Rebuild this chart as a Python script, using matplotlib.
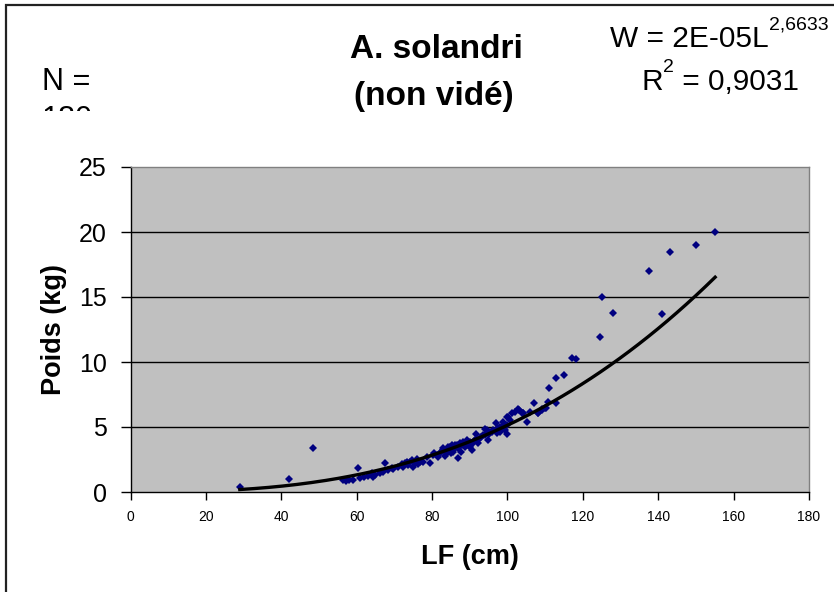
import numpy as np
import matplotlib
matplotlib.use("Agg")
import matplotlib.pyplot as plt
from matplotlib.patches import Rectangle
from matplotlib.transforms import Bbox, TransformedBbox

plt.rcParams['font.family'] = ['Liberation Sans', 'DejaVu Sans']

# ---- data ----
lf_cm = [29.0, 42.0, 48.5, 56.5, 57.3, 58.0, 59.1, 60.4, 60.9, 62.0, 63.1, 64.0, 64.4, 64.9,
         66.2, 67.1, 67.5, 68.4, 69.3, 69.7, 71.0, 71.9, 72.4, 72.8, 73.3, 73.7, 74.1, 74.6,
         75.0, 75.5, 75.9, 76.3, 76.8, 77.7, 78.6, 79.4, 80.3, 81.2, 82.1, 83.0, 83.4, 83.9,
         84.3, 84.7, 85.2, 85.6, 86.5, 86.9, 83.0, 83.9, 84.7, 85.6, 86.1, 86.9, 87.4, 87.8,
         88.3, 88.7, 89.2, 89.6, 90.1, 90.5, 90.9, 91.4, 91.6, 92.3, 92.7, 93.6, 94.0, 94.5,
         94.9, 95.4, 96.2, 96.9, 97.1, 97.6, 98.0, 98.5, 98.9, 99.3, 99.8, 100.2, 100.7, 101.1,
         102.0, 103.1, 103.8, 105.1, 106.0, 107.0, 108.2, 109.1, 110.0, 110.8, 111.1, 113.0,
         113.0, 115.1, 117.0, 118.1, 124.5, 125.1, 128.1, 137.5, 141.1, 143.0, 150.1, 155.1,
         80.5, 81.5, 82.5, 84.0, 85.0, 86.0, 87.0, 88.0, 89.0, 90.0, 91.0, 92.0, 93.0, 94.0,
         95.0, 96.0, 97.0, 98.0, 99.0, 100.0, 100.0, 102.9, 104.2, 108.1, 109.2, 110.1, 104.0]
poids_kg = [0.38, 0.97, 3.41, 0.92, 0.88, 0.95, 0.92, 1.87, 1.05, 1.15, 1.23, 1.49, 1.13, 1.31,
            1.49, 1.56, 2.20, 1.69, 1.82, 1.74, 1.95, 2.15, 1.95, 2.21, 2.33, 2.08, 2.33, 2.46,
            1.95, 2.26, 2.51, 2.15, 2.33, 2.33, 2.67, 2.20, 2.85, 2.85, 2.97, 3.23, 2.77, 2.97,
            3.49, 3.23, 3.62, 3.10, 3.62, 2.59, 3.36, 3.10, 3.49, 3.23, 3.62, 3.36, 3.74, 3.10,
            3.87, 3.49, 4.00, 3.62, 3.87, 3.23, 3.74, 4.00, 4.46, 3.74, 4.13, 4.38, 4.82, 4.77,
            4.00, 4.64, 4.77, 5.33, 4.51, 4.90, 4.64, 5.03, 5.41, 4.77, 5.15, 5.79, 5.54, 6.05,
            6.18, 6.31, 6.05, 5.36, 6.18, 6.82, 6.05, 6.31, 6.44, 6.95, 7.97, 6.82,
            8.74, 9.00, 10.33, 10.23, 11.92, 14.97, 13.74, 16.97, 13.70, 18.46, 18.97, 19.98,
            3.00, 2.70, 3.10, 3.30, 3.00, 3.40, 3.50, 3.60, 3.70, 3.50, 3.90, 4.00, 4.20, 4.40,
            4.50, 4.60, 4.80, 5.00, 5.00, 4.46, 5.80, 6.36, 6.10, 6.05, 6.36, 6.46, 6.10]

fit_a = 2.42e-5
fit_b = 2.6633

x_ticks = [0, 20, 40, 60, 80, 100, 120, 140, 160, 180]
y_ticks = [0, 5, 10, 15, 20, 25]

title_lines = ["A. solandri", "(non vidé)"]
eq_main = "W = 2E-05L"
eq_exp = "2,6633"
r2_text = " = 0,9031"
n_label = "N ="
n_value = "180"
x_label = "LF (cm)"
y_label = "Poids (kg)"

# ---- figure ----
W, H = 834, 592
fig = plt.figure(figsize=(W / 100, H / 100), dpi=100)
fig.patch.set_facecolor('white')

def fx(px):
    return px / W

def fy(py):
    return 1 - py / H

ax = fig.add_axes([fx(130.5), fy(492), fx(809) - fx(130.5), fy(167) - fy(492)])
ax.set_facecolor('#C0C0C0')
ax.set_xlim(0, 180)
ax.set_ylim(0, 25)
ax.set_xticks(x_ticks)
ax.set_yticks(y_ticks)
ax.set_xticklabels([str(v) for v in x_ticks], fontsize=10)
ax.set_yticklabels([str(v) for v in y_ticks], fontsize=18)
ax.tick_params(axis='x', direction='out', length=6, width=1, color='black', pad=7)
ax.tick_params(axis='y', direction='out', length=7, width=1, color='black', pad=10)
for yv in y_ticks[1:-1]:
    ax.axhline(yv, color='black', lw=1.0, zorder=1)
ax.spines['left'].set_color('black')
ax.spines['bottom'].set_color('black')
ax.spines['top'].set_color('#808080')
ax.spines['right'].set_color('#808080')
for s in ax.spines.values():
    s.set_linewidth(1.0)

ax.plot(lf_cm, poids_kg, linestyle='none', marker='D', markersize=3.8,
        color='#000080', markeredgewidth=0, zorder=3)

xf = np.linspace(min(lf_cm), max(lf_cm), 200)
ax.plot(xf, fit_a * xf ** fit_b, color='black', lw=2.4, zorder=4)

ax.set_xlabel(x_label, fontsize=19.5, fontweight='bold', labelpad=14)
ax.set_ylabel(y_label, fontsize=19.5, fontweight='bold', labelpad=9)

# outer chart border (cut by the image edge on right/bottom)
fig.patches.append(Rectangle((fx(6), -0.2), 1.5, fy(5) + 0.2, transform=fig.transFigure,
                             fill=False, edgecolor='#222222', lw=1.6))

# title
fig.text(fx(436), fy(50), title_lines[0], ha='center', va='center', fontsize=24, fontweight='bold')
fig.text(fx(434), fy(96), title_lines[1], ha='center', va='center', fontsize=24, fontweight='bold')

# N label (second line clipped as in reference)
fig.text(fx(42), fy(82), n_label, ha='left', va='center', fontsize=22)
tn = fig.text(fx(42), fy(120), n_value, ha='left', va='center', fontsize=22)
tn.set_clip_box(TransformedBbox(Bbox([[fx(0), fy(111)], [fx(200), fy(60)]]), fig.transFigure))
tn.set_clip_on(True)

# equation
fig.canvas.draw()
r = fig.canvas.get_renderer()
t1 = fig.text(fx(610), fy(47), eq_main, ha='left', va='baseline', fontsize=21.5)
bb = t1.get_window_extent(r)
fig.text(bb.x1 / W + 0.001, fy(29), eq_exp, ha='left', va='baseline', fontsize=14)

t2 = fig.text(fx(641), fy(90), "R", ha='left', va='baseline', fontsize=21.5)
bb2 = t2.get_window_extent(r)
t3 = fig.text(bb2.x1 / W + 0.001, fy(72), "2", ha='left', va='baseline', fontsize=14)
bb3 = t3.get_window_extent(r)
fig.text(bb3.x1 / W, fy(90), r2_text, ha='left', va='baseline', fontsize=21.5)

fig.savefig("out.png", dpi=100)
